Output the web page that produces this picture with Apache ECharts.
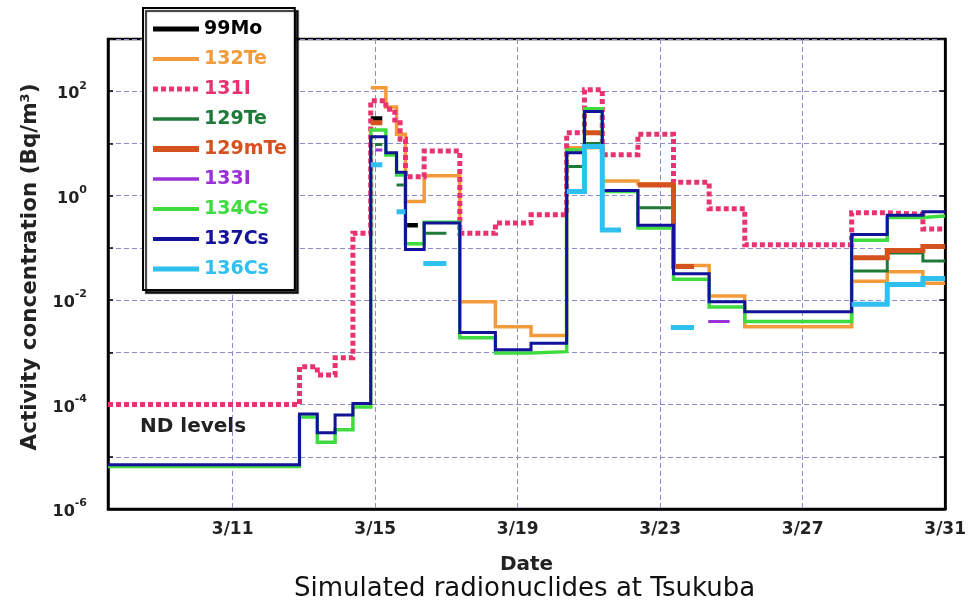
<!DOCTYPE html>
<html>
<head>
<meta charset="utf-8">
<script src="https://cdn.jsdelivr.net/npm/echarts@6/dist/echarts.min.js"></script>
<style>
  html, body { margin: 0; padding: 0; background: #fff; }
  #chart { width: 969px; height: 601px; }
</style>
</head>
<body>
<div id="chart"></div>
<script>
// Step series of activity concentration (Bq/m3) against date in March (day of month).
// For each nuclide: bounds has one more entry than values; each value holds from
// bounds[i] to bounds[i+1]; null means no value in that interval.
const nuclides = ['99Mo', '132Te', '131I', '129Te', '129mTe', '133I', '134Cs', '137Cs', '136Cs'];
const xTickDays = [11, 15, 19, 23, 27, 31];

const mo99Bounds = [14.875, 15.2, 15.85, 16.2];
const mo99Values = [30, null, 0.27];

const te132Bounds = [14.875, 15.3, 15.6, 15.85, 16.375, 17.375, 18.375, 19.375, 20.375, 20.875, 21.375, 22.375, 23.375, 24.375, 25.375, 28.375, 29.375, 30.375, 31];
const te132Values = [117, 50, 15, 0.77, 2.4, 0.0093, 0.0031, 0.0021, 8.3, 8.5, 1.9, 1.7, 0.046, 0.012, 0.0031, 0.023, 0.035, 0.021];

const i131Bounds = [7.5, 12.875, 13.375, 13.875, 14.375, 14.875, 15.3, 15.55, 15.7, 15.85, 16.375, 17.375, 18.375, 19.375, 20.375, 20.875, 21.375, 22.375, 23.375, 24.375, 25.375, 28.375, 29.375, 30.375, 31];
const i131Values = [1e-4, 5.3e-4, 3.7e-4, 7.9e-4, 0.19, 66, 45, 28, 12, 2.3, 7.2, 0.19, 0.30, 0.43, 16, 107, 6.1, 15, 1.8, 0.56, 0.115, 0.47, 0.44, 0.23];

const te129Bounds = [15.0, 15.2, 15.6, 15.85, 16.375, 17.0, 20.375, 20.875, 21.375, 22.375, 23.375, 28.375, 29.375, 30.375, 31];
const te129Values = [9.5, null, 1.6, null, 0.19, null, 3.6, 10, null, 0.59, null, 0.036, 0.08, 0.056];

const te129mBounds = [14.875, 15.2, 20.875, 21.375, 22.375, 23.375, 23.95, 28.375, 29.375, 30.375, 31];
const te129mValues = [25, null, 16, null, 1.6, 0.044, null, 0.065, 0.089, 0.106];

const i133Bounds = [15.0, 15.2, 24.35, 24.95];
const i133Values = [7.5, null, 0.0039];

const cs134Bounds = [7.5, 12.875, 13.375, 13.875, 14.375, 14.875, 15.3, 15.6, 15.85, 16.375, 17.375, 18.375, 19.375, 20.375, 20.875, 21.375, 22.375, 23.375, 24.375, 25.375, 28.375, 29.375, 30.375, 31];
const cs134Values = [6.5e-6, 5.8e-5, 1.9e-5, 3.3e-5, 9e-5, 18, 6.0, 2.5, 0.12, 0.31, 0.0019, 0.00097, 0.00103, 7.5, 46, 1.2, 0.24, 0.025, 0.0074, 0.0039, 0.14, 0.38, 0.41];

const cs137Bounds = [7.5, 12.875, 13.375, 13.875, 14.375, 14.875, 15.3, 15.6, 15.85, 16.375, 17.375, 18.375, 19.375, 20.375, 20.875, 21.375, 22.375, 23.375, 24.375, 25.375, 28.375, 29.375, 30.375, 31];
const cs137Values = [7e-6, 6.6e-5, 2.9e-5, 6.3e-5, 1.05e-4, 13.5, 6.6, 2.8, 0.093, 0.30, 0.0024, 0.00112, 0.0015, 6.6, 41, 1.25, 0.27, 0.032, 0.0093, 0.006, 0.18, 0.42, 0.49];

const cs136Bounds = [14.875, 15.2, 15.6, 15.85, 16.35, 17.0, 20.375, 20.875, 21.375, 21.9, 23.3, 23.95, 28.375, 29.375, 30.375, 31];
const cs136Values = [3.9, null, 0.49, null, 0.05, null, 1.2, 8.7, 0.22, null, 0.003, null, 0.0083, 0.020, 0.026];

const colors = ['#000000', '#f39a3a', '#e8336f', '#1f7a3a', '#d4521e', '#9b30d8', '#3fdc3f', '#12129a', '#2fc0ef'];
const widths = [4.5, 3.5, 5, 3, 5, 3, 3.5, 3, 5];
const legendWidths = [5, 4, 5, 3.5, 6, 3.5, 4, 4, 5];

const seriesSource = [
  [mo99Bounds, mo99Values], [te132Bounds, te132Values], [i131Bounds, i131Values],
  [te129Bounds, te129Values], [te129mBounds, te129mValues], [i133Bounds, i133Values],
  [cs134Bounds, cs134Values], [cs137Bounds, cs137Values], [cs136Bounds, cs136Values]
];

// Turn interval values into points for a step:'end' line, breaking at missing intervals.
function stepPoints(bounds, values) {
  const pts = [];
  for (let i = 0; i < values.length; i++) {
    const v = values[i];
    if (v == null) { pts.push([bounds[i], '-']); continue; }
    pts.push([bounds[i], v]);
    const next = values[i + 1];
    if (i === values.length - 1 || next == null) pts.push([bounds[i + 1], v]);
  }
  return pts;
}

const FONT = 'DejaVu Sans';
const TEXT = '#222';
const dotted = [5, 3];

const series = nuclides.map((name, i) => ({
  name: name,
  type: 'line',
  step: 'end',
  symbol: 'none',
  connectNulls: false,
  animation: false,
  color: colors[i],
  lineStyle: {
    color: colors[i],
    width: widths[i],
    type: name === '131I' ? dotted : 'solid',
    cap: 'butt',
    join: 'miter'
  },
  data: stepPoints(seriesSource[i][0], seriesSource[i][1])
}));

const chart = echarts.init(document.getElementById('chart'), null, { renderer: 'canvas' });

const gridLine = { show: true, lineStyle: { color: '#8c8cd6', type: [5, 3], width: 1 } };

chart.setOption({
  animation: false,
  backgroundColor: '#fff',
  title: {
    text: 'Simulated radionuclides at Tsukuba',
    left: 289, top: 571,
    textStyle: { fontFamily: FONT, fontWeight: 'normal', fontSize: 26, color: '#111' }
  },
  grid: {
    left: 108, top: 39, right: 21, bottom: 92,
    show: true, borderColor: '#000', borderWidth: 2.5, backgroundColor: '#fff'
  },
  legend: {
    orient: 'vertical',
    left: 143, top: 8,
    padding: [11, 8, 11, 7],
    itemGap: 10, itemWidth: 46, itemHeight: 14,
    backgroundColor: '#fff', borderColor: '#000', borderWidth: 2,
    shadowColor: 'rgba(0,0,0,0.8)', shadowOffsetX: 3, shadowOffsetY: 3, shadowBlur: 1,
    selectedMode: false,
    itemStyle: { opacity: 0 },
    textStyle: { fontFamily: FONT, fontWeight: 'bold', fontSize: 19, lineHeight: 20 },
    data: nuclides.map((n, i) => ({
      name: n,
      textStyle: { color: colors[i] },
      itemStyle: { opacity: 0 },
      lineStyle: { color: colors[i], width: legendWidths[i], type: n === '131I' ? dotted : 'solid', cap: 'butt' }
    }))
  },
  xAxis: {
    type: 'value', min: 7.5, max: 31,
    axisLine: { show: true, onZero: false, lineStyle: { color: '#000', width: 2.5 } },
    axisTick: { show: false, customValues: xTickDays },
    axisLabel: {
      customValues: xTickDays,
      formatter: v => '3/' + v,
      margin: 12,
      fontFamily: FONT, fontWeight: 'bold', fontSize: 17, color: TEXT
    },
    splitLine: gridLine,
    name: 'Date', nameLocation: 'middle', nameGap: 46,
    nameTextStyle: { fontFamily: FONT, fontWeight: 'bold', fontSize: 20, color: TEXT }
  },
  yAxis: [{
    type: 'log', logBase: 10, min: 1e-6, max: 1e3, splitNumber: 9,
    axisLine: { show: true, onZero: false, lineStyle: { color: '#000', width: 2.5 } },
    axisTick: { show: true, inside: true, length: 5, lineStyle: { color: '#000', width: 1.5 } },
    axisLabel: {
      margin: 21,
      formatter: v => {
        const e = Math.round(Math.log10(v));
        return e % 2 === 0 ? '{b|10}{s|' + e + '}' : '';
      },
      rich: {
        b: { fontFamily: FONT, fontWeight: 'bold', fontSize: 16, color: TEXT, verticalAlign: 'bottom', padding: [6, 0, 0, 0] },
        s: { fontFamily: FONT, fontWeight: 'bold', fontSize: 11, color: TEXT, verticalAlign: 'top' }
      }
    },
    splitLine: gridLine,
    name: 'Activity concentration (Bq/m{s|3})',
    nameLocation: 'middle', nameGap: 62, nameRotate: 90,
    nameTextStyle: {
      fontFamily: FONT, fontWeight: 'bold', fontSize: 21.5, color: TEXT,
      padding: [0, 0, 0, 14],
      rich: { s: { fontFamily: FONT, fontWeight: 'bold', fontSize: 13, color: TEXT, verticalAlign: 'top' } }
    }
  }, {
    type: 'log', logBase: 10, min: 1e-6, max: 1e3, splitNumber: 9, position: 'right',
    axisLine: { show: true, onZero: false, lineStyle: { color: '#000', width: 2.5 } },
    axisTick: { show: true, inside: true, length: 6, lineStyle: { color: '#000', width: 1.5 } },
    axisLabel: { show: false },
    splitLine: { show: false }
  }],
  graphic: [{
    type: 'text', left: 140, top: 417,
    style: { text: 'ND levels', font: 'bold 20px "DejaVu Sans"', fill: TEXT }
  }],
  series: series
});
</script>
</body>
</html>
